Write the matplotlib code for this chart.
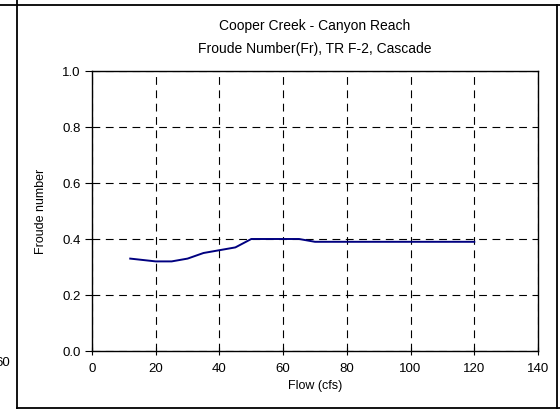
"""Froude number vs flow for the Canyon Reach cross-section."""
import matplotlib
matplotlib.use("Agg")
import matplotlib.pyplot as plt
from matplotlib.lines import Line2D

plt.rcParams["font.family"] = ["Liberation Sans", "DejaVu Sans"]

flow_cfs = [12, 20, 25, 30, 35, 40, 45, 50, 55, 60, 65, 70, 80, 90, 100, 110, 120]
froude = [0.33, 0.32, 0.32, 0.33, 0.35, 0.36, 0.37, 0.40, 0.40, 0.40, 0.40, 0.39,
          0.39, 0.39, 0.39, 0.39, 0.39]

x_ticks = [0, 20, 40, 60, 80, 100, 120, 140]
y_ticks = [0.0, 0.2, 0.4, 0.6, 0.8, 1.0]

W, H = 560, 409
fig = plt.figure(figsize=(W / 100, H / 100), dpi=100)
ax = fig.add_axes([92 / W, 1 - 351 / H, (538 - 92) / W, (351 - 71) / H])

ax.plot(flow_cfs, froude, color="#000080", linewidth=1.4)

ax.set_xlim(0, 140)
ax.set_ylim(0, 1.0)
ax.set_xticks(x_ticks)
ax.set_yticks(y_ticks)
ax.set_yticklabels([f"{v:.1f}" for v in y_ticks])
ax.tick_params(axis="x", direction="inout", length=6, width=0.8, labelsize=9.5, pad=6)
ax.tick_params(axis="y", direction="out", length=5, width=0.8, labelsize=9.5, pad=3)
ax.grid(True, color="black", linestyle=(0, (7, 5)), linewidth=0.8)
for s in ax.spines.values():
    s.set_linewidth(1.0)

ax.set_xlabel("Flow (cfs)", fontsize=9, labelpad=3)
ax.set_ylabel("Froude number", fontsize=9, labelpad=11)
ax.set_title("Cooper Creek - Canyon Reach\nFroude Number(Fr), TR F-2, Cascade",
             fontsize=10, linespacing=1.85, pad=13)

# sheet frame around the chart and the edge of the neighbouring one
def px_line(x0, y0, x1, y1):
    fig.add_artist(Line2D([x0 / W, x1 / W], [1 - y0 / H, 1 - y1 / H],
                          color="black", linewidth=1.3, transform=fig.transFigure))

px_line(0, 5, W, 5)
px_line(17, 0, 17, H)
px_line(17, 408, W, 408)
px_line(557, 5, 557, 408)
fig.text(10 / W, 1 - 363 / H, "60", fontsize=9.5, ha="right", va="center")

fig.savefig("out.png", dpi=100)
